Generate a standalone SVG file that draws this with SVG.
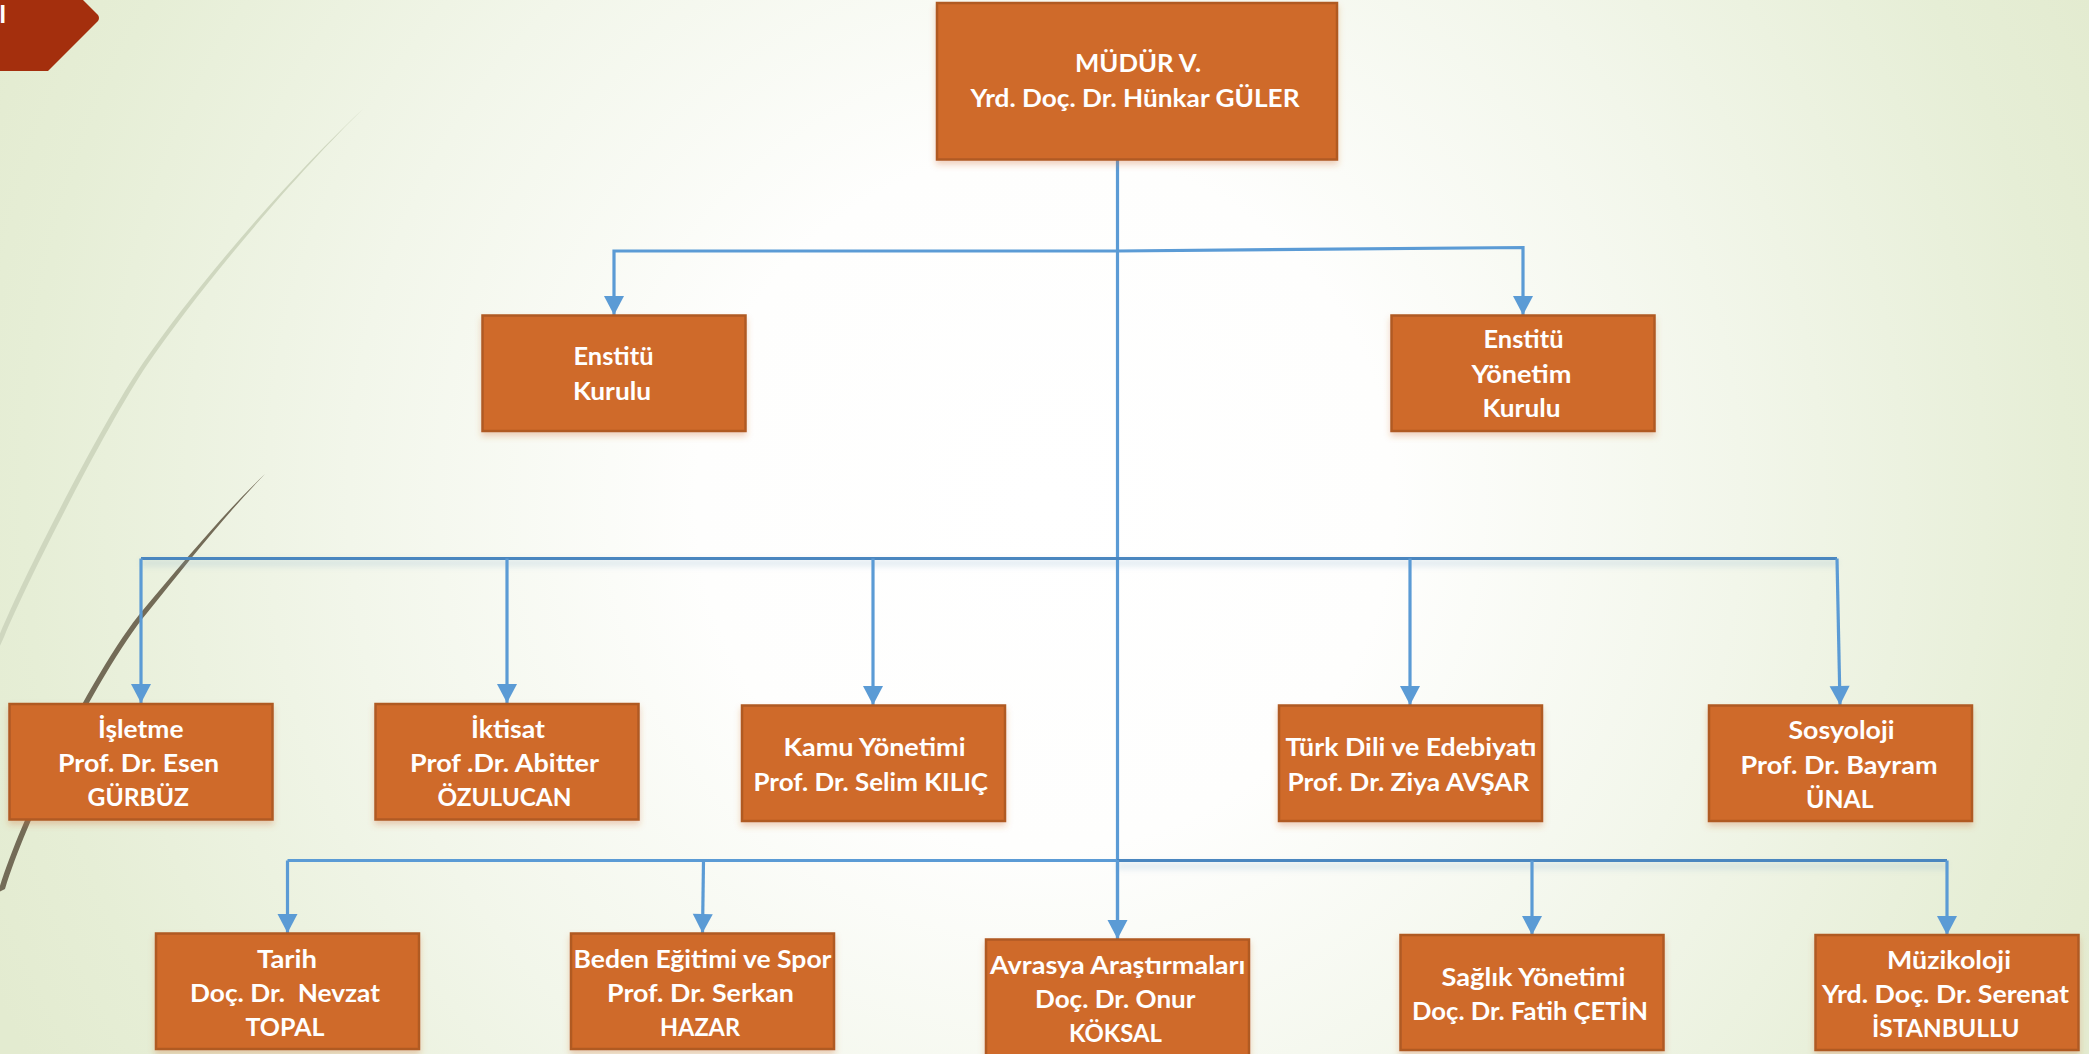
<svg xmlns="http://www.w3.org/2000/svg" width="2089" height="1054" viewBox="0 0 2089 1054">
<style>
.box{fill:#cf6a2a;stroke:#b05a24;stroke-width:2.500;filter:url(#sh)}
text{font-family:"Lato","Open Sans","Liberation Sans",sans-serif;font-weight:700;font-size:25px;fill:#fff}
.c{fill:none;stroke:#5b9bd5;stroke-width:3.200}
.a{marker-end:url(#ar)}
.d{stroke:#4a86bf}
</style>
<defs>
<radialGradient id="bg" gradientUnits="userSpaceOnUse" cx="1045" cy="500" r="1160">
<stop offset="0" stop-color="#ffffff"/><stop offset=".3" stop-color="#fefefd"/><stop offset=".6" stop-color="#f2f6ea"/><stop offset=".88" stop-color="#e6eed6"/><stop offset="1" stop-color="#e3ebd0"/>
</radialGradient>
<filter id="sh" x="-5%" y="-5%" width="110%" height="115%"><feDropShadow dx="0" dy="4" stdDeviation="3" flood-color="#cf6a2a" flood-opacity=".3"/></filter>
<filter id="bl" x="-1%" y="-400%" width="102%" height="900%"><feGaussianBlur stdDeviation="3"/></filter>
<marker id="ar" markerUnits="userSpaceOnUse" markerWidth="22" markerHeight="22" viewBox="0 -11 20 22" refX="19" refY="0" orient="auto"><path d="M0,-10L19,0L0,10z" fill="#5b9bd5"/></marker>
</defs>
<rect width="2089" height="1054" fill="url(#bg)"/>
<g id="decor">
<path d="M364,108C294,173 198,283 143,363C103,421 25,573 -1,636L-1,648L4,637C30,575 108,423 147,365C202,285 296,174 364,108z" fill="#cfd7bf"/>
<path d="M265,474C225,512 185,560 143,610C100,661 25,805 -1,889L-1,892L5,889C30,807 105,663 147,613C188,562 227,513 265,474z" fill="#736b57"/>
<path d="M0,0H83L98,15Q100,18 98,21L48,71H0z" fill="#a42f0d"/>
<text x="-1" y="23">I</text>
</g>
<g id="connectors">
<path d="M141,563H1837M1117,866H1947" stroke="#7fa9c9" stroke-width="6" opacity=".25" fill="none" filter="url(#bl)"/>
<path class="c" d="M1117.500,160V938"/>
<path class="c a" d="M1117.500,251H614V315"/>
<path class="c a" d="M1117.500,251L1523,247.500V315"/>
<path class="c d" d="M141,558.500H1837"/>
<path class="c a" d="M141,558.500V703"/>
<path class="c a" d="M507,558.500V703"/>
<path class="c a" d="M873,558.500V705"/>
<path class="c a" d="M1410,558.500V705"/>
<path class="c a" d="M1837,558.500L1840,705"/>
<path class="c" d="M287.500,860.500H1117"/>
<path class="c d" d="M1117,860.500H1947"/>
<path class="c a" d="M287.500,860.500V933"/>
<path class="c a" d="M703.500,860.500L702.500,933"/>
<path class="c a" d="M1117.500,860V939"/>
<path class="c a" d="M1532,860.500V935"/>
<path class="c a" d="M1947,860.500V935"/>
</g>
<g id="n-mudur"><rect class="box" x="937" y="3" width="400" height="156.500"/>
<text x="1075" y="71.500" textLength="126" lengthAdjust="spacingAndGlyphs">MÜDÜR V.</text>
<text x="970.500" y="106.500" textLength="329" lengthAdjust="spacingAndGlyphs">Yrd. Doç. Dr. Hünkar GÜLER</text></g>
<g id="n-enstitu-kurulu"><rect class="box" x="482.500" y="315.500" width="263" height="115.500"/>
<text x="573.500" y="365" textLength="80" lengthAdjust="spacingAndGlyphs">Enstitü</text>
<text x="573" y="400" textLength="78" lengthAdjust="spacingAndGlyphs">Kurulu</text></g>
<g id="n-enstitu-yonetim"><rect class="box" x="1391.500" y="315.500" width="263" height="115.500"/>
<text x="1483.500" y="348" textLength="80" lengthAdjust="spacingAndGlyphs">Enstitü</text>
<text x="1471.500" y="382.500" textLength="100" lengthAdjust="spacingAndGlyphs">Yönetim</text>
<text x="1482.500" y="416.500" textLength="78" lengthAdjust="spacingAndGlyphs">Kurulu</text></g>
<g id="n-isletme"><rect class="box" x="9.500" y="704" width="263" height="115.500"/>
<text x="98" y="738" textLength="85.500" lengthAdjust="spacingAndGlyphs">İşletme</text>
<text x="58" y="771.500" textLength="161" lengthAdjust="spacingAndGlyphs">Prof. Dr. Esen</text>
<text x="87.500" y="806" textLength="101.500" lengthAdjust="spacingAndGlyphs">GÜRBÜZ</text></g>
<g id="n-iktisat"><rect class="box" x="375.500" y="704" width="263" height="115.500"/>
<text x="471" y="738" textLength="74" lengthAdjust="spacingAndGlyphs">İktisat</text>
<text x="410" y="771.500" textLength="189" lengthAdjust="spacingAndGlyphs">Prof .Dr. Abitter</text>
<text x="437.500" y="806" textLength="134" lengthAdjust="spacingAndGlyphs">ÖZULUCAN</text></g>
<g id="n-kamu"><rect class="box" x="742" y="705.500" width="263" height="115.500"/>
<text x="783.500" y="756" textLength="182" lengthAdjust="spacingAndGlyphs">Kamu Yönetimi</text>
<text x="753.500" y="790.500" textLength="234.500" lengthAdjust="spacingAndGlyphs">Prof. Dr. Selim KILIÇ</text></g>
<g id="n-turk"><rect class="box" x="1279" y="705.500" width="263" height="115.500"/>
<text x="1285.500" y="756" textLength="251" lengthAdjust="spacingAndGlyphs">Türk Dili ve Edebiyatı</text>
<text x="1287.500" y="790.500" textLength="242" lengthAdjust="spacingAndGlyphs">Prof. Dr. Ziya AVŞAR</text></g>
<g id="n-sosyoloji"><rect class="box" x="1709" y="705.500" width="263" height="115.500"/>
<text x="1788.500" y="739" textLength="106" lengthAdjust="spacingAndGlyphs">Sosyoloji</text>
<text x="1740.500" y="773.500" textLength="197" lengthAdjust="spacingAndGlyphs">Prof. Dr. Bayram</text>
<text x="1806" y="807.500" textLength="67.500" lengthAdjust="spacingAndGlyphs">ÜNAL</text></g>
<g id="n-tarih"><rect class="box" x="156" y="933.500" width="263" height="115.500"/>
<text x="257" y="968" textLength="60" lengthAdjust="spacingAndGlyphs">Tarih</text>
<text x="190" y="1001.500" textLength="190" lengthAdjust="spacingAndGlyphs" xml:space="preserve">Doç. Dr.  Nevzat</text>
<text x="245.500" y="1035.500" textLength="79" lengthAdjust="spacingAndGlyphs">TOPAL</text></g>
<g id="n-beden"><rect class="box" x="571" y="933.500" width="263" height="115.500"/>
<text x="573.500" y="968" textLength="258" lengthAdjust="spacingAndGlyphs">Beden Eğitimi ve Spor</text>
<text x="607" y="1001.500" textLength="187" lengthAdjust="spacingAndGlyphs">Prof. Dr. Serkan</text>
<text x="660" y="1035.500" textLength="80" lengthAdjust="spacingAndGlyphs">HAZAR</text></g>
<g id="n-avrasya"><rect class="box" x="986" y="939.500" width="263" height="120"/>
<text x="990" y="974" textLength="255.500" lengthAdjust="spacingAndGlyphs">Avrasya Araştırmaları</text>
<text x="1035" y="1007.500" textLength="160.500" lengthAdjust="spacingAndGlyphs">Doç. Dr. Onur</text>
<text x="1069" y="1042" textLength="93" lengthAdjust="spacingAndGlyphs">KÖKSAL</text></g>
<g id="n-saglik"><rect class="box" x="1400.500" y="935" width="263" height="115"/>
<text x="1441.500" y="985.500" textLength="184" lengthAdjust="spacingAndGlyphs">Sağlık Yönetimi</text>
<text x="1412" y="1020" textLength="236" lengthAdjust="spacingAndGlyphs">Doç. Dr. Fatih ÇETİN</text></g>
<g id="n-muzikoloji"><rect class="box" x="1815.500" y="935" width="263" height="115"/>
<text x="1887" y="968.500" textLength="124" lengthAdjust="spacingAndGlyphs">Müzikoloji</text>
<text x="1822" y="1002.500" textLength="247" lengthAdjust="spacingAndGlyphs">Yrd. Doç. Dr. Serenat</text>
<text x="1872" y="1037" textLength="147.500" lengthAdjust="spacingAndGlyphs">İSTANBULLU</text></g>
</svg>
